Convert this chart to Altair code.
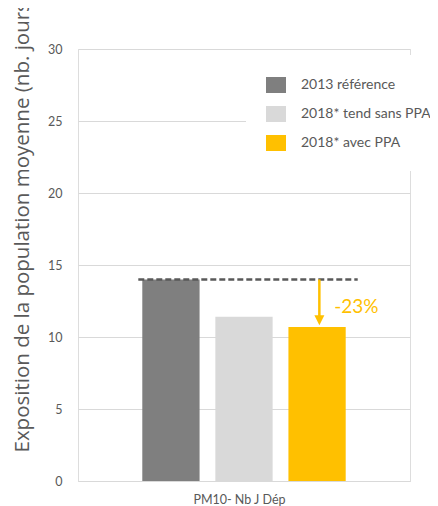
import altair as alt
import pandas as pd

# ---- data ----
series = ["2013 référence", "2018* tend sans PPA", "2018* avec PPA"]
values = [14.0, 11.4, 10.7]
colors = ["#7F7F7F", "#D9D9D9", "#FFC000"]
category = "PM10- Nb J Dép"
y_title = "Exposition de la population moyenne (nb. jours)"
y_ticks = [0, 5, 10, 15, 20, 25, 30]
reference_level = 14.0
arrow_end = 11.3
arrow_head = 11.17
change_label = "-23%"
change_label_y = 12.1

FONT = "Lato"
TXT = "#595959"

bars_df = pd.DataFrame({"series": series, "value": values})
ref_df = pd.DataFrame({"series": [series[0]], "series_end": [series[2]], "value": [reference_level]})
arrow_df = pd.DataFrame({"series": [series[2]], "value": [reference_level], "value_end": [arrow_end]})
head_df = pd.DataFrame({"series": [series[2]], "value": [arrow_head]})
label_df = pd.DataFrame({"series": [series[2]], "value": [change_label_y], "label": [change_label]})

xscale = alt.Scale(domain=series, paddingInner=0.216, paddingOuter=0.88)
yscale = alt.Scale(domain=[0, 30], nice=False)

xaxis = alt.Axis(labels=False, ticks=False, domainColor="#D9D9D9", domainWidth=1,
                 title=category, titleFont=FONT, titleFontSize=12.5, titleFontWeight="normal",
                 titleColor=TXT, titleX=161, titleY=22, titleBaseline="alphabetic", titleAlign="center",
                 grid=False)
yaxis = alt.Axis(values=y_ticks, domain=False, ticks=False, tickSize=0, labelPadding=16,
                 labelFont=FONT, labelFontSize=12.5, labelColor=TXT,
                 gridColor="#D9D9D9", gridWidth=1,
                 title=y_title, titleFont="Open Sans", titleFontSize=20.5, titleFontWeight="normal",
                 titleColor=TXT, titleAngle=270, titleAlign="left", titleBaseline="alphabetic",
                 titleX=-50, titleY=403)


def xenc(field="series", bp=None):
    kw = {}
    if bp is not None:
        kw["bandPosition"] = bp
    return alt.X(f"{field}:N", scale=xscale, axis=xaxis, sort=series, **kw)


def yenc(field="value"):
    return alt.Y(f"{field}:Q", scale=yscale, axis=yaxis)


bars = alt.Chart(bars_df).mark_bar(opacity=1).encode(
    x=xenc(),
    y=yenc(),
    color=alt.Color("series:N", sort=series,
                    scale=alt.Scale(domain=series, range=colors),
                    legend=alt.Legend(title=None, orient="none", legendX=168, legendY=6,
                                      padding=20, fillColor="white",
                                      symbolType="M-1,-0.8H1V0.8H-1Z", symbolSize=400,
                                      symbolStrokeWidth=0, symbolOpacity=1,
                                      labelFont=FONT, labelFontSize=14, labelColor=TXT,
                                      labelOffset=15, rowPadding=11)),
)

ref_rule = alt.Chart(ref_df).mark_rule(color="#595959", strokeWidth=2.5, strokeDash=[6, 3],
                                       xOffset=-4, x2Offset=12).encode(
    x=xenc("series", 0),
    x2=alt.X2("series_end", bandPosition=1),
    y=yenc(),
)

arrow_rule = alt.Chart(arrow_df).mark_rule(color="#FFC000", strokeWidth=2.5).encode(
    x=xenc("series", 0.54),
    y=yenc(),
    y2=alt.Y2("value_end"),
)

arrow_tip = alt.Chart(head_df).mark_point(shape="M-1,-1L1,-1L0,1Z", size=100, filled=True,
                                          color="#FFC000", opacity=1, strokeWidth=0).encode(
    x=xenc("series", 0.54),
    y=yenc(),
)

label = alt.Chart(label_df).mark_text(color="#FFC000", font=FONT, fontSize=19, align="left",
                                      baseline="middle").encode(
    x=xenc("series", 0.8),
    y=yenc(),
    text="label:N",
)

chart = alt.layer(bars, ref_rule, arrow_rule, arrow_tip, label).properties(
    width=332, height=432,
    autosize=alt.AutoSizeParams(type="none"),
    padding={"left": 70, "top": 41, "right": 20, "bottom": 25},
).configure_view(stroke=None).configure(background="white")

chart.save("out.html", embed_options={"renderer": "svg", "actions": False})
